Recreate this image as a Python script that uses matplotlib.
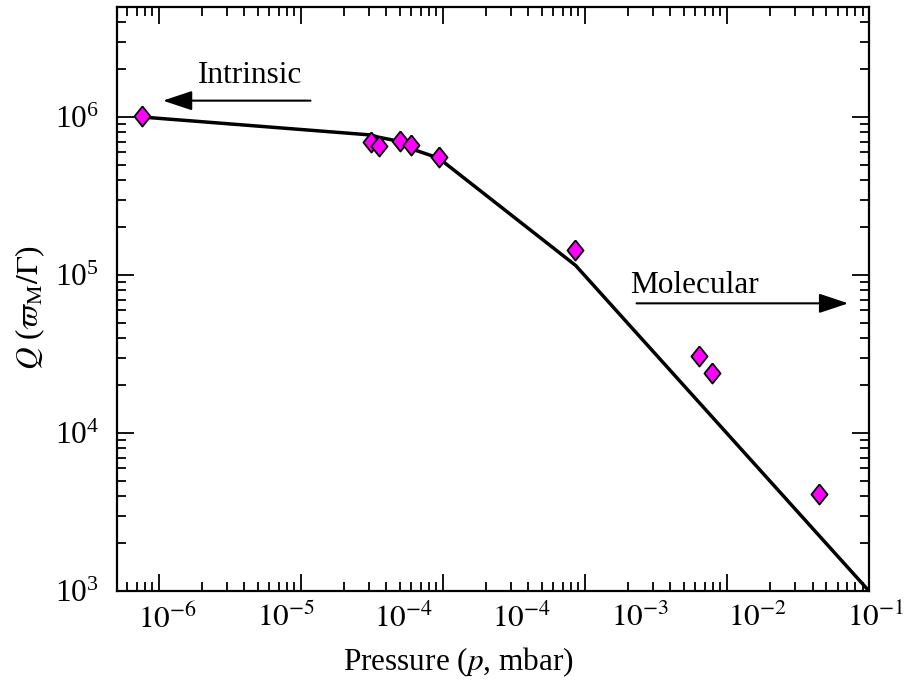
import numpy as np
import matplotlib
matplotlib.use("Agg")
import matplotlib.pyplot as plt
from matplotlib.ticker import LogLocator, NullFormatter, NullLocator
from matplotlib.transforms import ScaledTranslation

# ── Data ──────────────────────────────────────────────────────────────────────
pressure = [7.66e-7, 3.11e-5, 3.54e-5, 5.0e-5, 5.97e-5, 9.33e-5,
            8.5e-4, 6.37e-3, 7.82e-3, 4.41e-2]                      # mbar
q_meas   = [1.01e6, 6.98e5, 6.55e5, 7.05e5, 6.62e5, 5.61e5,
            1.44e5, 3.07e4, 2.39e4, 4.09e3]

fit_p = [7.66e-7, 3.11e-5, 3.54e-5, 5.0e-5, 5.97e-5, 9.33e-5, 8.6e-4, 1e-1]
fit_q = [1.0e6, 7.7e5, 7.45e5, 7.0e5, 6.3e5, 5.5e5, 1.15e5, 1.0e3]

tick_labels = [r"$10^{-6}$", r"$10^{-5}$", r"$10^{-4}$", r"$10^{-4}$",
               r"$10^{-3}$", r"$10^{-2}$", r"$10^{-1}$"]

# ── Style ─────────────────────────────────────────────────────────────────────
FS = 22.5
LBL_PAD = 9
plt.rcParams["font.family"] = ["Liberation Serif", "DejaVu Serif"]
plt.rcParams["mathtext.fontset"] = "stix"
plt.rcParams["font.size"] = FS

# the label row is evenly spaced and does not follow the decade ticks;
# secondary axis on a log parent is log too, so map p -> 10**k
LBL_START, LBL_STEP = -5.9373, 0.831


def to_label(p):
    p = np.clip(np.asarray(p, dtype=float), 1e-300, None)
    return 10 ** ((np.log10(p) - LBL_START) / LBL_STEP)


def from_label(v):
    v = np.clip(np.asarray(v, dtype=float), 1e-300, None)
    return 10 ** (np.log10(v) * LBL_STEP + LBL_START)


fig = plt.figure(figsize=(9.06, 6.82), dpi=100)
ax = fig.add_axes([0.1291, 0.1334, 0.8301, 0.8563])

ax.plot(fit_p, fit_q, color="black", lw=2.5, zorder=2)

diamond = [(0, 1), (0.8, 0), (0, -1), (-0.8, 0), (0, 1)]
ax.plot(pressure, q_meas, linestyle="none", marker=diamond, ms=14.5,
        mfc="#ff00ff", mec="black", mew=1.3, zorder=3)

ax.set_xscale("log")
ax.set_yscale("log")
ax.set_xlim(5.08e-7, 1e-1)
ax.set_ylim(1e3, 4.97e6)

ax.xaxis.set_minor_locator(LogLocator(base=10, subs=np.arange(2, 10), numticks=20))
ax.xaxis.set_minor_formatter(NullFormatter())
ax.yaxis.set_minor_locator(LogLocator(base=10, subs=np.arange(2, 10), numticks=20))
ax.yaxis.set_minor_formatter(NullFormatter())

ax.tick_params(which="both", direction="in", top=True, right=True, width=1.3)
ax.tick_params(which="major", length=12.5)
ax.tick_params(which="minor", length=6.5)
ax.tick_params(axis="x", labelbottom=False)
ax.tick_params(axis="y", labelsize=FS, pad=13)
for s in ax.spines.values():
    s.set_linewidth(1.6)

n_in = len(tick_labels) - 1          # last label sits just past the right spine
sec = ax.secondary_xaxis("bottom", functions=(to_label, from_label))
sec.set_xticks([10.0 ** k for k in range(n_in)], labels=tick_labels[:n_in])
sec.xaxis.set_minor_locator(NullLocator())
sec.tick_params(which="both", length=0, labelsize=FS, pad=LBL_PAD)
sec.spines["bottom"].set_visible(False)
sec.set_xlabel(r"Pressure ($p$, mbar)", fontsize=FS, x=0.4535, labelpad=8)

# same placement as the tick labels, but outside the view limits
off = ScaledTranslation(0, -LBL_PAD / 72, fig.dpi_scale_trans)
ax.text(from_label(10.0 ** n_in), 0, tick_labels[n_in], fontsize=FS,
        ha="center", va="top", transform=ax.get_xaxis_transform() + off,
        clip_on=False)

ax.set_ylabel(r"$Q$ ($\varpi_{\rm M}/\Gamma$)", fontsize=FS, labelpad=6, y=0.485)

# ── Annotations ───────────────────────────────────────────────────────────────
arrow = dict(arrowstyle="-|>,head_length=1.8,head_width=0.6", color="black",
             lw=1.5, shrinkA=0, shrinkB=0, mutation_scale=10)
ax.annotate("", xy=(1.07e-6, 1.27e6), xytext=(1.17e-5, 1.27e6), arrowprops=arrow)
ax.text(4.4e-6, 1.64e6, "Intrinsic", ha="center", va="baseline", fontsize=FS)

ax.annotate("", xy=(7.14e-2, 6.62e4), xytext=(2.31e-3, 6.62e4), arrowprops=arrow)
ax.text(2.07e-3, 7.69e4, "Molecular", ha="left", va="baseline", fontsize=FS)

fig.savefig("out.png", dpi=100)
